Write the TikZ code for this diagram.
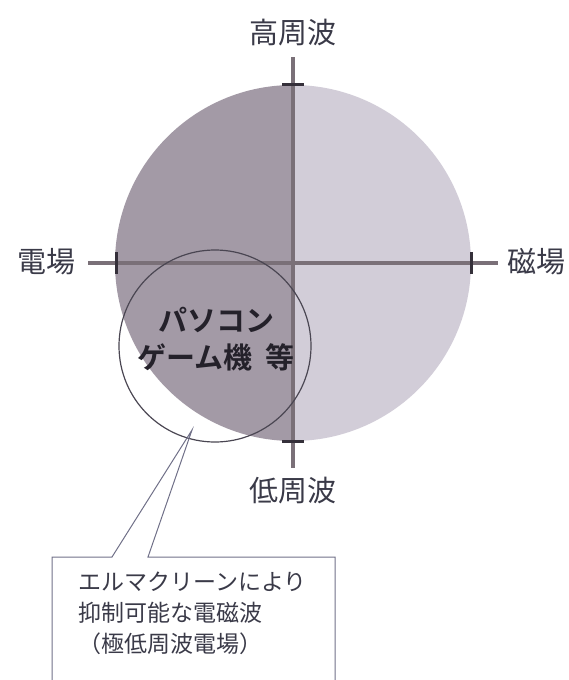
\documentclass[tikz,border=0pt]{standalone}
\usepackage{fontspec}
\setmainfont{Noto Sans CJK JP}
\newfontfamily\jpb{Noto Sans CJK JP Bold}
\definecolor{darkhalf}{HTML}{A39AA6}
\definecolor{lighthalf}{HTML}{D2CDD8}
\definecolor{axiscol}{HTML}{7A7078}
\definecolor{tickcol}{HTML}{35303A}
\definecolor{boldcol}{HTML}{24212A}
\definecolor{linecol}{HTML}{4A4652}
\definecolor{boxcol}{HTML}{707088}
\definecolor{txtcol}{HTML}{3A3A48}
\tikzset{
  axisline/.style={draw=axiscol, line width=4pt},
  tickmark/.style={draw=tickcol, line width=3pt},
  lbl/.style={text=txtcol, font=\fontsize{29}{33}\selectfont, inner sep=0pt},
  calltext/.style={text=txtcol, font=\fontsize{23}{31}\selectfont, align=left, inner sep=0pt, anchor=north west},
  boldtext/.style={text=boldcol, font=\jpb\fontsize{29}{37}\selectfont, align=center, inner sep=0pt},
  thinline/.style={draw=linecol, line width=1.2pt},
  boxline/.style={draw=boxcol, line width=1pt}
}
\begin{document}
\begin{tikzpicture}[x=1pt,y=-1pt]
\useasboundingbox (0,0) rectangle (569,680);
% big circle halves
\coordinate (c) at (293,263);
\begin{scope}
\clip (c) circle[radius=178];
\fill[darkhalf] (100,70) rectangle (293,460);
\fill[lighthalf] (293,70) rectangle (490,460);
\end{scope}
% axes
\coordinate (vtop) at (293,57);
\coordinate (vbot) at (293,468);
\coordinate (hl) at (88,263);
\coordinate (hr) at (498,263);
\draw[axisline] (vtop) -- (vbot);
\draw[axisline] (hl) -- (hr);
% ticks
\draw[tickmark] (282,84) -- (304,84);
\draw[tickmark] (282,441) -- (304,441);
\draw[tickmark] (116,252) -- (116,274);
\draw[tickmark] (471,252) -- (471,274);
% labels
\node[lbl] (high) at (293,33) {高周波};
\node[lbl] (low) at (293,491) {低周波};
\node[lbl] (efield) at (46,262) {電場};
\node[lbl] (mfield) at (536,262) {磁場};
% small circle
\node[thinline, circle, minimum size=192pt, inner sep=0pt] (small) at (215,346) {};
\node[boldtext] (pc) at (216,339) {パソコン\\ゲーム機\hspace{0.45em}等};
% callout
\coordinate (tip) at (192,430);
\coordinate (b1) at (112,557);
\coordinate (b2) at (148,557);
\draw[boxline] (52,680) -- (52,557) -- (b1) -- (tip) -- (b2) -- (335,557) -- (335,680);
\node[calltext] (note) at (78,572) {エルマクリーンにより\\抑制可能な電磁波\\（極低周波電場）};
\end{tikzpicture}
\end{document}
